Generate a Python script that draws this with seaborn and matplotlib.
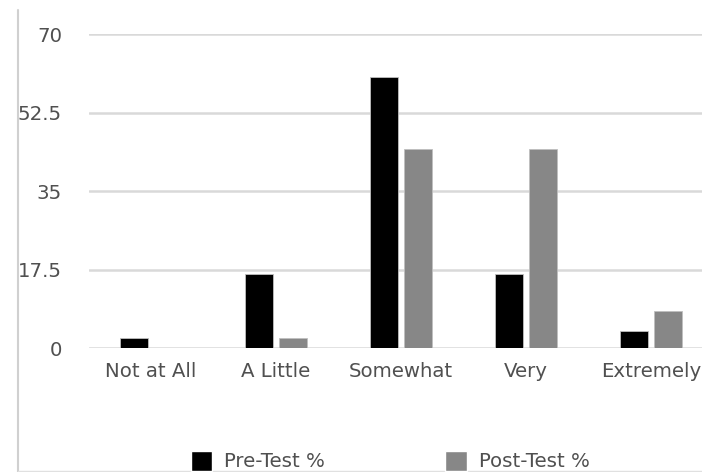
import matplotlib
matplotlib.use("Agg")
import matplotlib.pyplot as plt
from matplotlib.lines import Line2D
from matplotlib.patches import Patch
import seaborn as sns
import pandas as pd

categories = ["Not at All", "A Little", "Somewhat", "Very", "Extremely"]
pre_test = [2.2, 16.5, 60.5, 16.5, 3.9]
post_test = [0.0, 2.2, 44.3, 44.3, 8.2]
series = ["Pre-Test %", "Post-Test %"]
y_ticks = [0, 17.5, 35, 52.5, 70]
y_tick_labels = ["0", "17.5", "35", "52.5", "70"]

df = pd.DataFrame({
    "category": categories * 2,
    "value": pre_test + post_test,
    "series": [series[0]] * len(categories) + [series[1]] * len(categories),
})

sns.set_theme(style="white")
plt.rcParams["font.family"] = ["DejaVu Sans"]
txt = "#505050"
fs = 14.2

fig = plt.figure(figsize=(7.02, 4.72), dpi=100)
W, H = 702, 472
ax = fig.add_axes([88.5 / W, (H - 348.3) / H, 625 / W, (348.3 - 34) / H])

sns.barplot(data=df, x="category", y="value", hue="series", order=categories,
            hue_order=series, palette=["#000000", "#878787"], width=0.544, gap=0.15,
            edgecolor="#bfbfbf", linewidth=0.6, ax=ax, legend=False, zorder=3)

ax.set_ylim(0, 70)
ax.set_xlim(-0.5, 4.5)
ax.set_yticks(y_ticks)
ax.set_yticklabels(y_tick_labels)
ax.yaxis.grid(True, color="#d9d9d9", linewidth=1.8, zorder=0)
ax.set_axisbelow(True)
for s in ax.spines.values():
    s.set_visible(False)
ax.set_xlabel("")
ax.set_ylabel("")
ax.tick_params(axis="y", length=0, pad=19, labelsize=fs, labelcolor=txt)
ax.tick_params(axis="x", length=0, pad=10, labelsize=fs, labelcolor=txt)

# chart border lines
fig.add_artist(Line2D([17.5 / W, 17.5 / W], [0, (H - 10) / H], transform=fig.transFigure,
                      color="#d0d0d0", linewidth=1.5))
fig.add_artist(Line2D([17.5 / W, 1], [0.6 / H, 0.6 / H], transform=fig.transFigure,
                      color="#e0e0e0", linewidth=1.0))

handles = [Patch(facecolor="#000000"), Patch(facecolor="#878787")]
fig.legend(handles, series, loc="center left", bbox_to_anchor=(173 / W, (H - 461) / H),
           ncol=2, frameon=False, fontsize=fs, labelcolor=txt, columnspacing=6.1,
           handlelength=1.1, handleheight=1.2, handletextpad=0.6)

fig.savefig("out.png", dpi=100, facecolor="white")
